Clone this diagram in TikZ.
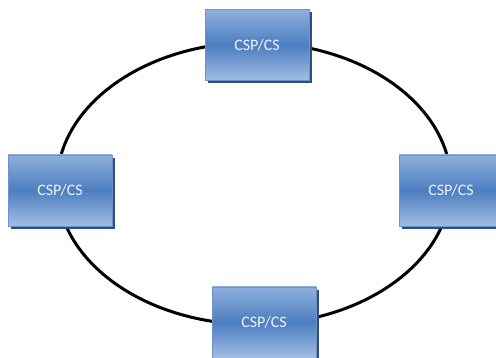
\documentclass[tikz,border=0pt]{standalone}
\usepackage{fontspec}
\setmainfont{Carlito}
\usepackage{tikz}
\usetikzlibrary{shapes,shadows,positioning,calc}
\definecolor{boxtop}{RGB}{143,175,220}
\definecolor{boxmid}{RGB}{76,126,193}
\definecolor{boxbot}{RGB}{163,190,227}
\definecolor{boxline}{RGB}{108,147,199}
\definecolor{boxshade}{RGB}{47,78,122}
\definecolor{boxtext}{RGB}{240,244,250}

\begin{document}
\begin{tikzpicture}[x=1pt, y=1pt]
				      \tikzset{align=center,font=\fontsize{16}{18}\selectfont}
				      \tikzset{box/.style = {shape=rectangle,draw=boxline,line width=0.8pt,
				        top color=boxtop,bottom color=boxbot,middle color=boxmid,
				        text=boxtext,minimum width=104pt,minimum height=71pt,inner sep=0pt,
				        copy shadow={shadow xshift=2.5pt,shadow yshift=-3pt,fill=boxshade,draw=none}}}
				      \tikzset{ring/.style = {draw=black,line width=3pt}}

				      \useasboundingbox (0,0) rectangle (496,358);

				      \coordinate (c) at (254,174.5);
				      \draw[ring] (c) ellipse [x radius=197pt, y radius=141pt];

				      \node[box] (1) at (257,313) {CSP/CS};
				      \node[box] (2) at (60,167.5) {CSP/CS};
				      \node[box] (3) at (451,167.5) {CSP/CS};
				      \node[box] (4) at (264,35.5) {CSP/CS};
			      \end{tikzpicture}
\end{document}
